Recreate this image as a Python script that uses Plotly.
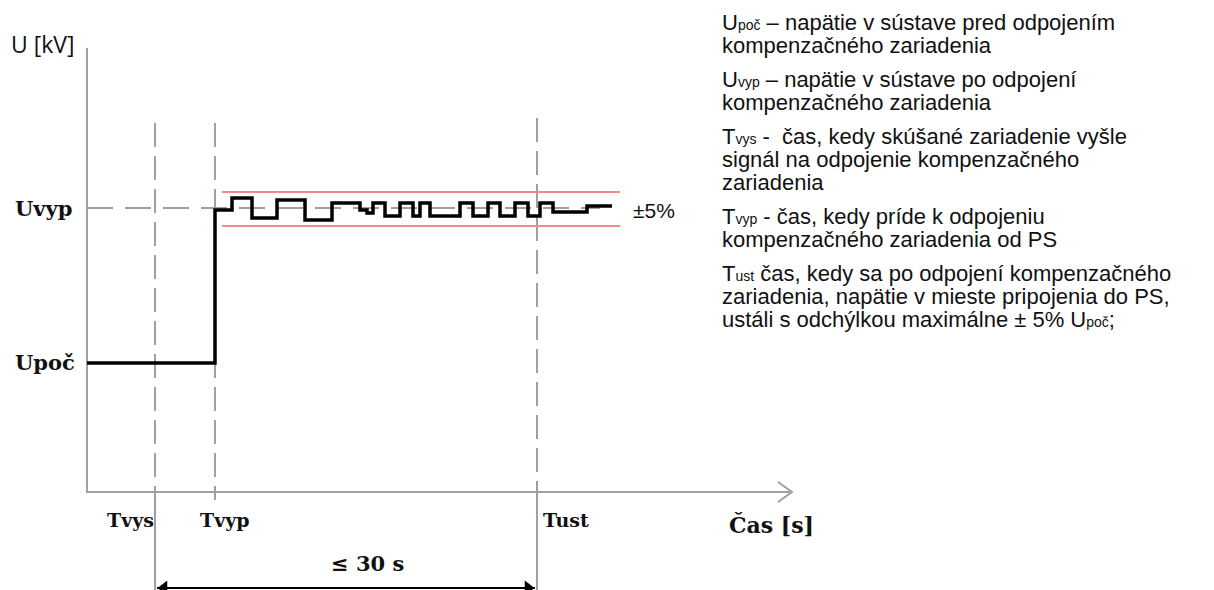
import plotly.graph_objects as go

# ---- diagram data (time axis / voltage axis in drawing units) ----
T_AXIS0 = 87          # origin of time axis
T_VYS = 155
T_VYP = 215
T_UST = 537
T_END = 790

U_AXIS0 = 492         # time axis level
U_TOP = 48
U_POC = 363
U_VYP = 208
U_BAND_HI = 192
U_BAND_LO = 226

# voltage response (step signal)
sig_t = [87, 215, 215, 232, 232, 252, 252, 277, 277, 305, 305, 332, 332, 360, 360, 367, 367, 373,
         373, 385, 385, 400, 400, 413, 413, 420, 420, 430, 430, 460, 460, 473, 473, 488, 488, 500,
         500, 515, 515, 528, 528, 540, 540, 553, 553, 587, 587, 612]
sig_u = [363, 363, 210, 210, 198, 198, 218, 218, 200, 200, 220, 220, 203, 203, 210, 210, 213, 213,
         203, 203, 216, 216, 203, 203, 216, 216, 203, 203, 216, 216, 203, 203, 216, 216, 203, 203,
         216, 216, 203, 203, 216, 216, 203, 203, 212, 212, 206, 206]

band_t = [222, 620]

SUB = "<span style='font-size:14px'>{}</span>"
legend_lines = [
    ("U" + SUB.format("poč") + " – napätie v sústave pred odpojením", 22),
    ("kompenzačného zariadenia", 45),
    ("U" + SUB.format("vyp") + " – napätie v sústave po odpojení", 79),
    ("kompenzačného zariadenia", 102),
    ("T" + SUB.format("vys") + " -  čas, kedy skúšané zariadenie vyšle", 136),
    ("signál na odpojenie kompenzačného", 159),
    ("zariadenia", 182),
    ("T" + SUB.format("vyp") + " - čas, kedy príde k odpojeniu", 216),
    ("kompenzačného zariadenia od PS", 239),
    ("T" + SUB.format("ust") + " čas, kedy sa po odpojení kompenzačného", 273),
    ("zariadenia, napätie v mieste pripojenia do PS,", 296),
    ("ustáli s odchýlkou maximálne ± 5% U" + SUB.format("poč") + ";", 319),
]

GRAY = "#a0a0a0"
fig = go.Figure()

# axes
fig.add_trace(go.Scatter(x=[T_AXIS0, T_AXIS0, T_END], y=[U_TOP, U_AXIS0, U_AXIS0], mode="lines",
                         line=dict(color=GRAY, width=2), hoverinfo="skip"))
fig.add_trace(go.Scatter(x=[T_END - 12, T_END + 2, T_END - 12], y=[U_AXIS0 - 10, U_AXIS0, U_AXIS0 + 10],
                         mode="lines", line=dict(color=GRAY, width=2), hoverinfo="skip"))

# dashed reference lines
dash = "24px,9px"
fig.add_trace(go.Scatter(x=[T_VYS, T_VYS], y=[123, U_AXIS0], mode="lines",
                         line=dict(color=GRAY, width=2, dash=dash), hoverinfo="skip"))
fig.add_trace(go.Scatter(x=[T_VYP, T_VYP], y=[123, 500], mode="lines",
                         line=dict(color=GRAY, width=2, dash=dash), hoverinfo="skip"))
fig.add_trace(go.Scatter(x=[T_UST, T_UST], y=[118, U_AXIS0], mode="lines",
                         line=dict(color=GRAY, width=2, dash=dash), hoverinfo="skip"))
fig.add_trace(go.Scatter(x=[T_AXIS0, 600], y=[U_VYP, U_VYP], mode="lines",
                         line=dict(color=GRAY, width=2, dash="26px,12px"), hoverinfo="skip"))
# extension lines for dimension
for tx in (T_VYS, T_UST):
    fig.add_trace(go.Scatter(x=[tx, tx], y=[U_AXIS0, 590], mode="lines",
                             line=dict(color=GRAY, width=2), hoverinfo="skip"))

# tolerance band
for ub in (U_BAND_HI, U_BAND_LO):
    fig.add_trace(go.Scatter(x=band_t, y=[ub, ub], mode="lines",
                             line=dict(color="#f58a8a", width=2), hoverinfo="skip"))

# signal
fig.add_trace(go.Scatter(x=sig_t, y=sig_u, mode="lines",
                         line=dict(color="black", width=3.5), hoverinfo="skip"))

# dimension line with arrowheads
fig.add_trace(go.Scatter(x=[T_VYS + 2, T_UST - 2], y=[588, 588], mode="lines",
                         line=dict(color="black", width=2), hoverinfo="skip"))
fig.add_trace(go.Scatter(x=[T_VYS + 9, T_UST - 9], y=[588, 588], mode="markers",
                         marker=dict(symbol=["triangle-left", "triangle-right"], size=13, color="black"),
                         hoverinfo="skip"))

serif = "DejaVu Serif"
ann = []
def lab(text, x, y, size, xanchor="center", family=serif, color="#111"):
    ann.append(dict(text=text, x=x, y=y, xref="x", yref="y", showarrow=False, xanchor=xanchor,
                    yanchor="middle", font=dict(family=family, size=size, color=color)))

lab("U [kV]", 9, 44, 23, xanchor="left", family="Open Sans")
lab("<b>Uvyp</b>", 13, 208, 21, xanchor="left")
lab("<b>Upoč</b>", 13, 362, 21, xanchor="left")
lab("<b>Tvys</b>", 130, 520, 19)
lab("<b>Tvyp</b>", 225, 520, 19)
lab("<b>Tust</b>", 566, 520, 19)
lab("<b>Čas [s]</b>", 771, 525, 22)
lab("<b>≤ 30 s</b>", 367, 563, 21)
lab("±5%", 631, 210, 21, xanchor="left", family="Liberation Sans")

for txt, yy in legend_lines:
    lab(txt, 720, yy, 22, xanchor="left", family="Liberation Sans", color="#111")

# page body has an 8px offset, so the plotting area covers page pixels 8..1214 / 8..590
fig.update_layout(
    width=1206, height=582, margin=dict(l=0, r=0, t=0, b=0),
    paper_bgcolor="white", plot_bgcolor="white", showlegend=False,
    xaxis=dict(range=[8, 1214], visible=False, fixedrange=True),
    yaxis=dict(range=[590, 8], visible=False, fixedrange=True),
    annotations=ann,
)
fig.write_html("out.html")
